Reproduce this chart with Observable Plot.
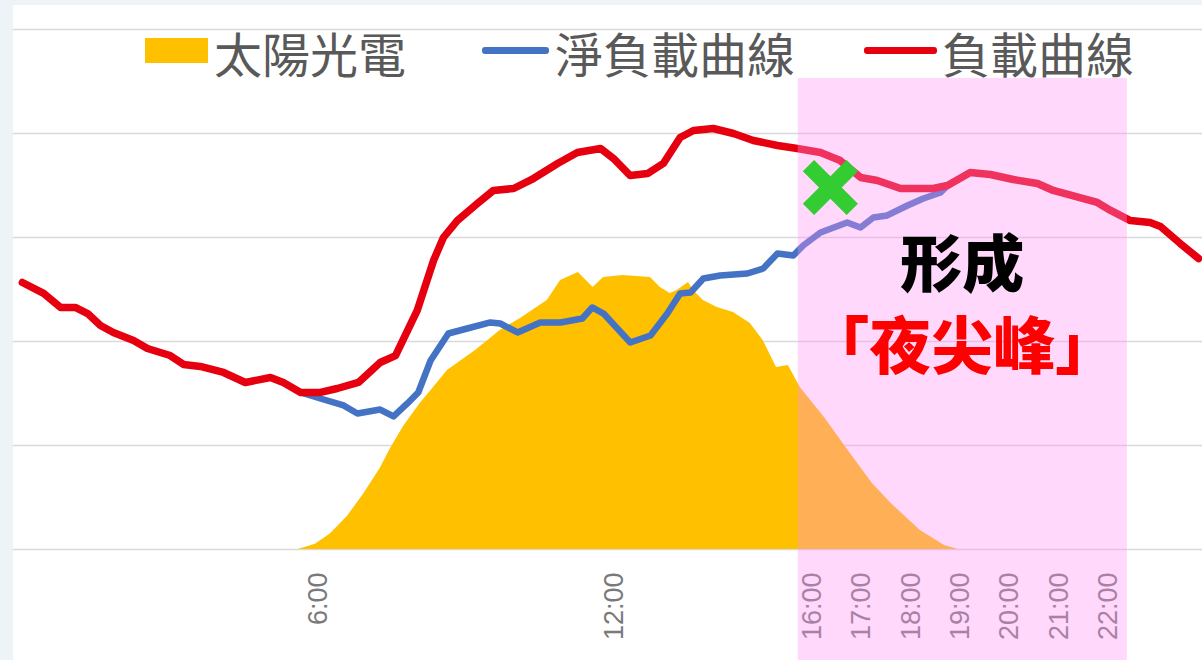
<!DOCTYPE html>
<html>
<head>
<meta charset="utf-8">
<script src="https://cdn.jsdelivr.net/npm/d3@7"></script>
<script src="https://cdn.jsdelivr.net/npm/@observablehq/plot@0.6"></script>
<style>
  html, body { margin: 0; padding: 0; width: 1202px; height: 660px; overflow: hidden; background: #eef3f8; }
  #chart { position: absolute; left: 13px; top: 5px; width: 1189px; height: 655px; background: #ffffff; }
  #chart svg { display: block; }
  .lg { position: absolute; font-family: "Noto Sans CJK TC", sans-serif; font-size: 48px; line-height: 48px; color: #595959; white-space: nowrap; z-index: 2; }
  .sw { position: absolute; z-index: 2; }
</style>
</head>
<body>
<div id="chart"></div>
<div class="sw" style="left:145px;top:38px;width:63px;height:25px;background:#ffc000"></div>
<div class="lg" id="lg1" style="left:214px;top:28px"></div>
<div class="sw" style="left:482px;top:47px;width:67px;height:7px;border-radius:3px;background:#4472c4"></div>
<div class="lg" id="lg2" style="left:555px;top:28px"></div>
<div class="sw" style="left:864px;top:47px;width:73px;height:7px;border-radius:3px;background:#e6000f"></div>
<div class="lg" id="lg3" style="left:942px;top:28px"></div>
<script>
// ---- data (hour of day, MW) ----
const seriesNames = ["太陽光電", "淨負載曲線", "負載曲線"];

const loadCurve = [
  [0.02,25670],[0.45,24620],[0.79,23270],[1.09,23270],[1.34,22690],[1.60,21540],[1.86,20870],
  [2.27,20100],[2.55,19330],[3.01,18650],[3.28,17790],[3.62,17600],[4.09,17020],[4.53,16060],
  [5.04,16540],[5.30,16060],[5.65,15100],[6.05,15100],[6.39,15480],[6.82,16060],[7.26,17980],
  [7.57,18650],[8.01,23000],[8.34,27790],[8.54,30000],[8.82,31630],[9.23,33270],[9.55,34520],
  [9.96,34710],[10.36,35670],[10.85,37120],[11.25,38170],[11.72,38560],[11.98,37600],[12.32,35960],
  [12.67,36150],[12.99,37120],[13.33,39620],[13.60,40290],[14.00,40480],[14.41,40000],[14.81,39330],
  [15.30,38850],[15.70,38560],[16.17,38170],[16.57,37400],[16.98,35770],[17.32,35480],[17.79,34710],
  [18.45,34710],[18.74,35000],[19.20,36250],[19.61,36060],[20.07,35580],[20.56,35190],[20.88,34520],
  [21.77,33370],[22.04,32600],[22.44,31630],[22.84,31440],[23.05,31060],[23.45,29420],[23.82,27980]
];

const netLoadCurve = [
  [5.65,15100],[6.05,14520],[6.52,13850],[6.80,13080],[7.26,13460],[7.53,12790],[7.81,14040],
  [8.03,15100],[8.28,18170],[8.64,20770],[9.02,21250],[9.49,21830],[9.69,21730],[10.04,20870],
  [10.50,21830],[10.91,21830],[11.35,22210],[11.55,23270],[11.78,22690],[12.32,19900],[12.73,20580],
  [13.07,22690],[13.33,24620],[13.54,24710],[13.80,26060],[14.14,26350],[14.69,26540],[15.01,27020],
  [15.30,28460],[15.62,28270],[15.82,29230],[16.17,30480],[16.71,31440],[16.98,30960],[17.24,31920],
  [17.52,32120],[17.93,33080],[18.25,33750],[18.60,34330],[18.74,35000]
];

const solarCurve = [
  [5.60,0],[5.95,500],[6.25,1500],[6.60,3200],[6.92,5300],[7.26,7800],[7.47,9700],[7.73,11800],
  [8.07,14040],[8.34,15580],[8.62,17210],[9.19,19130],[9.69,21060],
  [10.10,22210],[10.64,23940],[10.91,25870],[11.27,26630],[11.57,25190],[11.78,26150],[12.18,26350],
  [12.73,26150],[12.93,25190],[13.13,24620],[13.27,24900],[13.50,25670],[13.60,24900],[13.80,23940],
  [14.08,23270],[14.41,22790],[14.75,21730],[15.01,20100],[15.28,17500],[15.52,17690],[15.76,15580],
  [16.25,12690],[16.73,9520],[17.22,6350],[17.60,4420],[18.19,1830],[18.68,390],[18.96,0]
];

const gridValues = [0, 10000, 20000, 30000, 40000, 50000];
const xTickHours = [6, 12, 16, 17, 18, 19, 20, 21, 22];

// evening-peak highlight band and annotations
const eveningBand = [{x1: 15.72, x2: 22.38, y1: 45290, y2: -11000}];
const crossMark = [{x: 16.37, y: 34810}];
const noteTop = [{x: 19.04, y: 27120, text: "形成"}];
const noteBottom = [{x: 19.04, y: 19230, text: "「夜尖峰」"}];

document.getElementById("lg1").textContent = seriesNames[0];
document.getElementById("lg2").textContent = seriesNames[1];
document.getElementById("lg3").textContent = seriesNames[2];

const chart = Plot.plot({
  width: 1189,
  height: 655,
  marginLeft: 0,
  marginRight: 0,
  marginTop: 24,
  marginBottom: 111,
  x: {domain: [-0.16, 23.9]},
  y: {domain: [0, 50000], axis: null},
  style: {background: "transparent", overflow: "visible"},
  marks: [
    Plot.ruleY(gridValues, {stroke: "#d9d9d9", strokeWidth: 1.3}),
    Plot.areaY(solarCurve, {x: d => d[0], y: d => d[1], fill: "#ffc000"}),
    Plot.line(netLoadCurve, {x: d => d[0], y: d => d[1], stroke: "#4472c4", strokeWidth: 6.5, strokeLinejoin: "round", strokeLinecap: "round"}),
    Plot.line(loadCurve, {x: d => d[0], y: d => d[1], stroke: "#e6000f", strokeWidth: 7.5, strokeLinejoin: "round", strokeLinecap: "round"}),
    Plot.axisX({ticks: xTickHours, tickFormat: d => d + ":00", tickRotate: -90, tickSize: 0, tickPadding: 23,
      fontSize: 27, fill: "#7a7a7a", fontFamily: "Liberation Sans", label: null}),
    Plot.rect(eveningBand, {x1: "x1", x2: "x2", y1: "y1", y2: "y2", fill: "rgb(255,143,243)", fillOpacity: 0.35}),
    Plot.dot(crossMark, {x: "x", y: "y", symbol: "times", r: 20, stroke: "#33cc33", strokeWidth: 16}),
    Plot.text(noteTop, {x: "x", y: "y", text: "text", fontSize: 62, fontWeight: 900, fill: "#000000",
      fontFamily: "Noto Sans CJK TC", textAnchor: "middle", lineAnchor: "middle"}),
    Plot.text(noteBottom, {x: "x", y: "y", text: "text", fontSize: 62, fontWeight: 900, fill: "#ff0000",
      fontFamily: "Noto Sans CJK TC", textAnchor: "middle", lineAnchor: "middle"})
  ]
});
document.getElementById("chart").appendChild(chart);
</script>
</body>
</html>
